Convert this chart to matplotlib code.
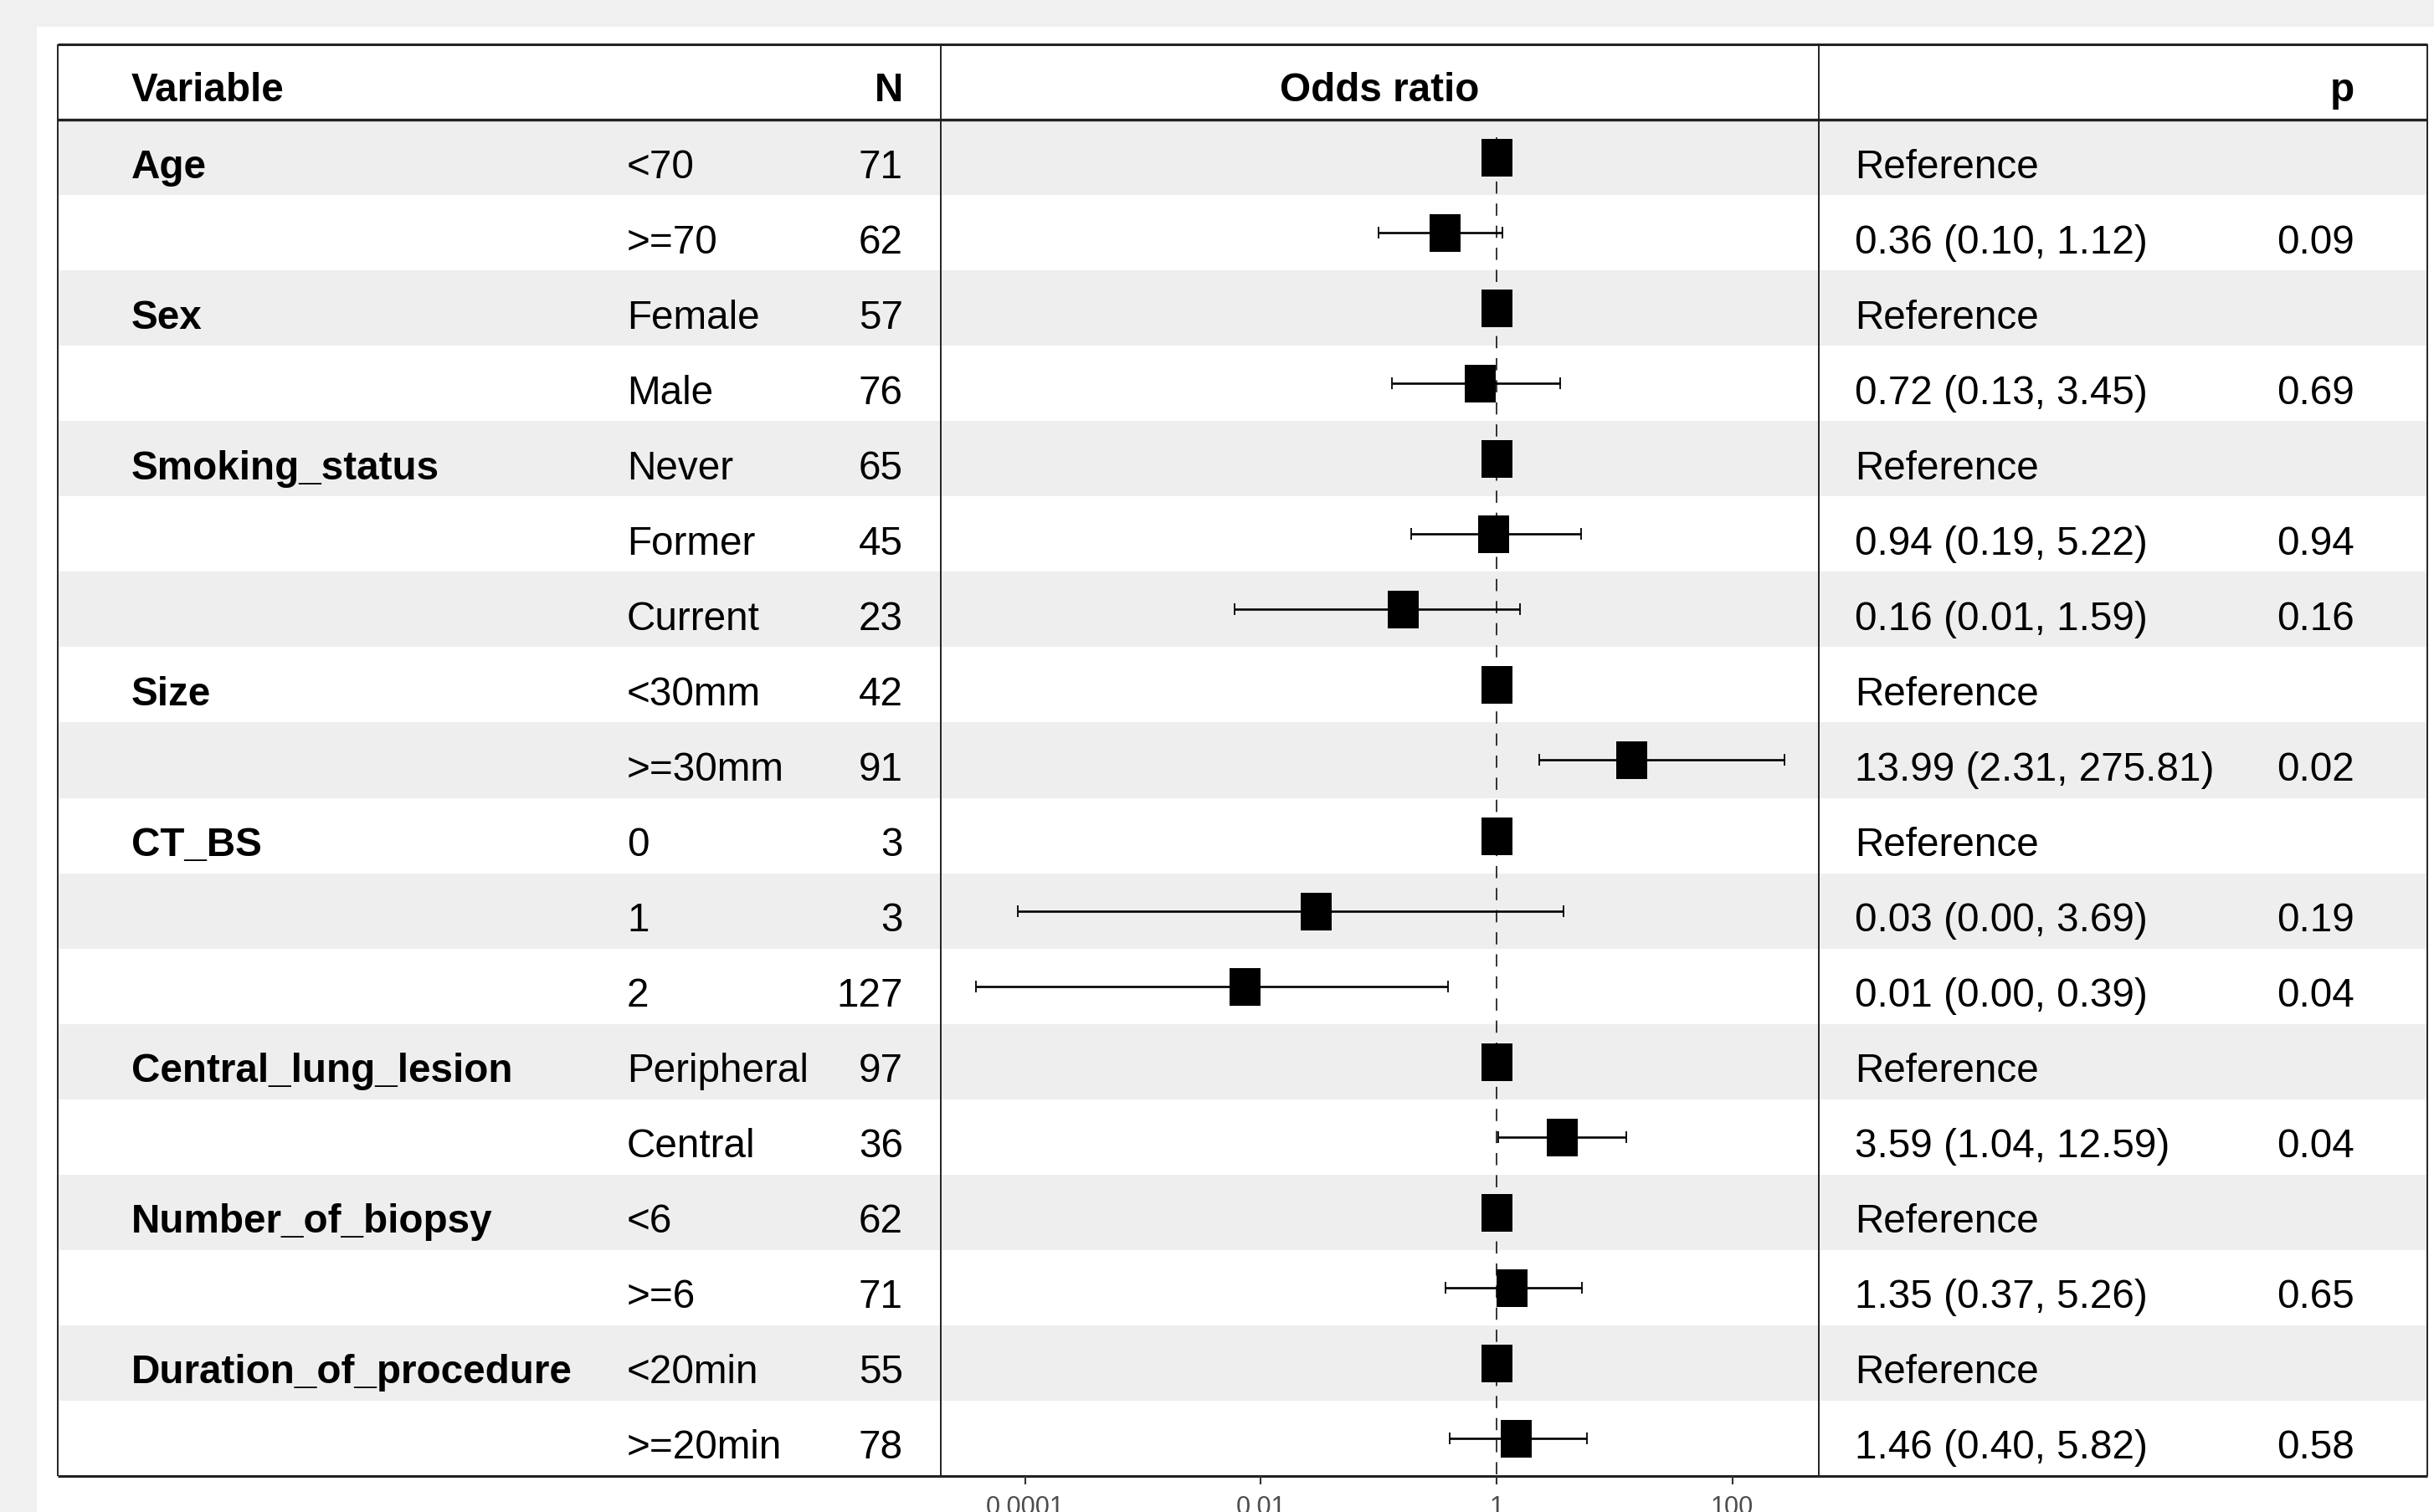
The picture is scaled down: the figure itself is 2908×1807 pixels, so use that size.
import matplotlib
matplotlib.use('Agg')
import matplotlib.pyplot as plt
import numpy as np

# ---------------- data ----------------
variables = ['Age', 'Sex', 'Smoking_status', 'Size', 'CT_BS',
             'Central_lung_lesion', 'Number_of_biopsy', 'Duration_of_procedure']
levels = [['<70', '>=70'], ['Female', 'Male'], ['Never', 'Former', 'Current'],
          ['<30mm', '>=30mm'], ['0', '1', '2'], ['Peripheral', 'Central'],
          ['<6', '>=6'], ['<20min', '>=20min']]
n_counts = [[71, 62], [57, 76], [65, 45, 23], [42, 91], [3, 3, 127],
            [97, 36], [62, 71], [55, 78]]

# odds ratio estimates and 95% CI per row (reference rows: estimate 1, no CI)
or_est = [1, 0.36, 1, 0.72, 1, 0.94, 0.16, 1, 13.99, 1, 0.029, 0.0073,
          1, 3.59, 1, 1.35, 1, 1.46]
or_low = [np.nan, 0.10, np.nan, 0.13, np.nan, 0.19, 0.006, np.nan, 2.31,
          np.nan, 0.000086, 0.000038, np.nan, 1.04, np.nan, 0.37, np.nan, 0.40]
or_high = [np.nan, 1.12, np.nan, 3.45, np.nan, 5.22, 1.59, np.nan, 275.81,
           np.nan, 3.69, 0.39, np.nan, 12.59, np.nan, 5.26, np.nan, 5.82]

or_text = ['Reference', '0.36 (0.10, 1.12)', 'Reference', '0.72 (0.13, 3.45)',
           'Reference', '0.94 (0.19, 5.22)', '0.16 (0.01, 1.59)', 'Reference',
           '13.99 (2.31, 275.81)', 'Reference', '0.03 (0.00, 3.69)',
           '0.01 (0.00, 0.39)', 'Reference', '3.59 (1.04, 12.59)', 'Reference',
           '1.35 (0.37, 5.26)', 'Reference', '1.46 (0.40, 5.82)']
p_text = ['', '0.09', '', '0.69', '', '0.94', '0.16', '', '0.02', '',
          '0.19', '0.04', '', '0.04', '', '0.65', '', '0.58']

tick_values = [1e-4, 1e-2, 1, 100]
tick_labels = ['0.0001', '0.01', '1', '100']

header = ['Variable', 'N', 'Odds ratio', 'p']

# ---------------- style / layout ----------------
plt.rcParams['font.family'] = ['Liberation Sans', 'DejaVu Sans']
plt.rcParams['lines.scale_dashes'] = False

W, H = 2908, 1807
DPI = 100
FS = 34.3
TICK_FS = 22

TBL_L, TBL_R = 69, 2900
TBL_TOP, HDR_BOT, TBL_BOT = 53, 143, 1764
SEP1, SEP2 = 1124, 2173
X_VAR, X_LVL, X_N, X_CI, X_P = 157, 749, 1079, 2216, 2813
LOG_MIN, LOG_MAX = -4.716, 2.734

fig = plt.figure(figsize=(W / DPI, H / DPI), dpi=DPI, facecolor='#f0f0f0')

ax = fig.add_axes([0, 0, 1, 1])
ax.set_xlim(0, W)
ax.set_ylim(H, 0)
ax.axis('off')

# white panel
ax.add_patch(plt.Rectangle((44, 32), W - 44, H - 32, facecolor='white',
                           edgecolor='none', zorder=0))

# flatten rows
var_col, lvl_col, n_col = [], [], []
for v, lv, ns in zip(variables, levels, n_counts):
    for j, (l, n) in enumerate(zip(lv, ns)):
        var_col.append(v if j == 0 else '')
        lvl_col.append(l)
        n_col.append(str(n))
n_rows = len(lvl_col)
row_h = (TBL_BOT - HDR_BOT) / n_rows

# stripes
for i in range(n_rows):
    if i % 2 == 0:
        ax.add_patch(plt.Rectangle((TBL_L, HDR_BOT + i * row_h), TBL_R - TBL_L, row_h,
                                   facecolor='#eeeeee', edgecolor='none', zorder=1))

# table lines
line_c = '#222222'
ax.plot([TBL_L, TBL_R], [TBL_TOP, TBL_TOP], color=line_c, lw=2.2, zorder=5,
        solid_capstyle='butt')
ax.plot([TBL_L, TBL_R], [HDR_BOT, HDR_BOT], color=line_c, lw=2.4, zorder=5,
        solid_capstyle='butt')
ax.plot([TBL_L, TBL_R], [TBL_BOT, TBL_BOT], color=line_c, lw=2.2, zorder=5,
        solid_capstyle='butt')
for xx in [TBL_L, SEP1, SEP2, TBL_R]:
    ax.plot([xx, xx], [TBL_TOP, TBL_BOT], color=line_c, lw=1.4, zorder=5,
            solid_capstyle='butt')

# header
hb = 121
ax.text(X_VAR, hb, header[0], fontsize=FS, fontweight='bold', ha='left', va='baseline', zorder=6)
ax.text(X_N, hb, header[1], fontsize=FS, fontweight='bold', ha='right', va='baseline', zorder=6)
ax.text((SEP1 + SEP2) / 2, hb, header[2], fontsize=FS, fontweight='bold', ha='center',
        va='baseline', zorder=6)
ax.text(X_P, hb, header[3], fontsize=FS, fontweight='bold', ha='right', va='baseline', zorder=6)

# table text
for i in range(n_rows):
    yb = HDR_BOT + (i + 0.5) * row_h + 24.5
    if var_col[i]:
        ax.text(X_VAR, yb, var_col[i], fontsize=FS, fontweight='bold', ha='left',
                va='baseline', zorder=6)
    ax.text(X_LVL, yb, lvl_col[i], fontsize=FS, ha='left', va='baseline', zorder=6)
    ax.text(X_N, yb, n_col[i], fontsize=FS, ha='right', va='baseline', zorder=6)
    ax.text(X_CI, yb, or_text[i], fontsize=FS, ha='left', va='baseline', zorder=6)
    if p_text[i]:
        ax.text(X_P, yb, p_text[i], fontsize=FS, ha='right', va='baseline', zorder=6)

# ---------------- forest plot ----------------
fax = fig.add_axes([SEP1 / W, 1 - TBL_BOT / H, (SEP2 - SEP1) / W, (TBL_BOT - HDR_BOT) / H])
fax.set_facecolor('none')
fax.set_xscale('log')
fax.set_xlim(10 ** LOG_MIN, 10 ** LOG_MAX)
fax.set_ylim(n_rows - 0.5, -0.5)
for s in fax.spines.values():
    s.set_visible(False)
fax.set_yticks([])
fax.minorticks_off()
fax.set_xticks(tick_values)
fax.set_xticklabels(tick_labels)
fax.tick_params(axis='x', which='major', direction='out', length=7.5, width=1.5,
                color='#333333', labelcolor='#4d4d4d', labelsize=TICK_FS, pad=9)
fax.tick_params(axis='x', which='minor', length=0)

ypos = np.arange(n_rows)
est = np.array(or_est, dtype=float)
lo = np.array(or_low, dtype=float)
hi = np.array(or_high, dtype=float)
has_ci = ~np.isnan(lo)

# reference dashed line
fax.axvline(1, ymin=0.001, ymax=0.991, color='black', lw=1.1,
            linestyle=(0, (10.5, 8.5)), zorder=2)

fax.errorbar(est[has_ci], ypos[has_ci],
             xerr=[est[has_ci] - lo[has_ci], hi[has_ci] - est[has_ci]],
             fmt='none', ecolor='black', elinewidth=1.9, capsize=4.7, capthick=1.3,
             zorder=3)

rect_marker = [(-37 / 45, -1), (37 / 45, -1), (37 / 45, 1), (-37 / 45, 1), (-37 / 45, -1)]
fax.plot(est, ypos, linestyle='none', marker=rect_marker, markersize=32.4,
         color='black', markeredgewidth=0, zorder=4)

fig.savefig('out.png', dpi=DPI, facecolor=fig.get_facecolor())
